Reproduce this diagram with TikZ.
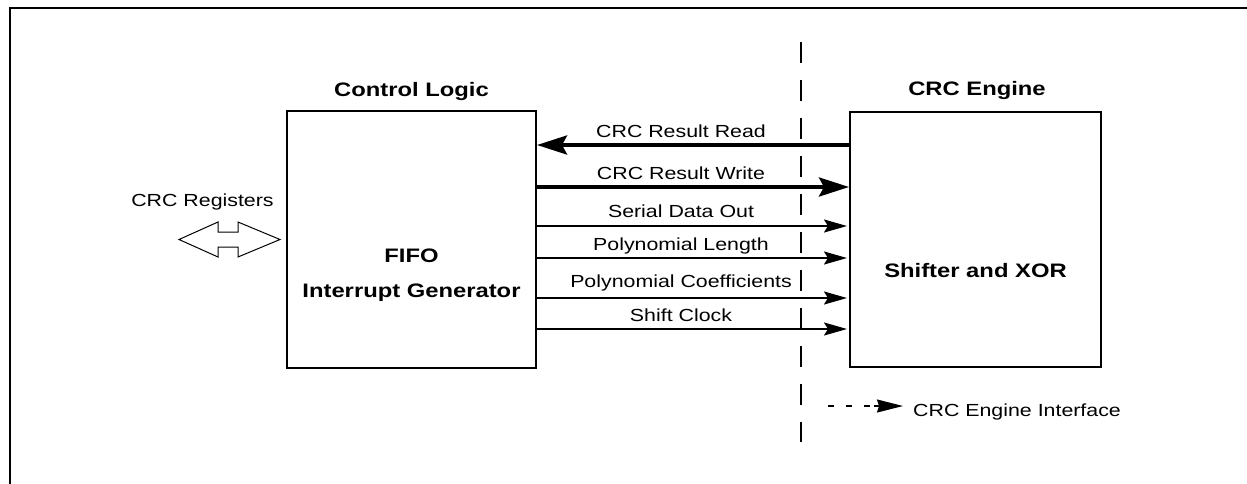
\documentclass[tikz,border=0pt]{standalone}
\usepackage{fontspec}
\setmainfont{Liberation Sans}[FakeStretch=1.22]
\usetikzlibrary{arrows.meta}
\begin{document}
\begin{tikzpicture}[x=1pt,y=-1pt,
  box/.style={draw, line width=2pt, inner sep=0pt},
  ttl/.style={font=\fontsize{19.5}{22}\selectfont\bfseries, anchor=base, inner sep=0pt},
  lbl/.style={font=\fontsize{17.5}{20}\selectfont, anchor=base, inner sep=0pt},
  bigarr/.style={line width=4pt, -{Stealth[length=30pt,width=19pt,inset=5pt]}},
  sigarr/.style={line width=2pt, -{Stealth[length=23pt,width=13pt,inset=4pt]}},
  ifline/.style={line width=2pt, dash pattern=on 21pt off 17pt},
  legline/.style={line width=1.4pt, dash pattern=on 6pt off 12pt},
  frame/.style={line width=2.2pt},
  dblarrow/.style={draw, line width=1pt, line join=miter},
]
\useasboundingbox (0,0) rectangle (1247,483);
\clip (0,0) rectangle (1247,483);
% outer frame (continues beyond the visible area)
\draw[frame] (10,8) rectangle (1300,540);

% blocks
\node[box, minimum width=249pt, minimum height=257pt] (cl) at (411.5,239.5) {};
\node[box, minimum width=251pt, minimum height=255pt] (ce) at (975.5,239.5) {};

% titles and inner texts
\node[ttl] (clt) at (411.5,96) {Control Logic};
\node[ttl] (cet) at (977,95) {CRC Engine};
\node[ttl] (fifo) at (411.5,262) {FIFO};
\node[ttl] (irq) at (411.5,297) {Interrupt Generator};
\node[ttl] (sx) at (975.5,277) {Shifter and XOR};

% interface line
\coordinate (dtop) at (801,42);
\coordinate (dbot) at (801,442);
\draw[ifline] (dtop) -- (dbot);

% signal rows
\coordinate (yR) at (0,145);
\coordinate (yW) at (0,187);
\coordinate (yS) at (0,226);
\coordinate (yL) at (0,258);
\coordinate (yC) at (0,298);
\coordinate (yK) at (0,329);

\draw[bigarr] (ce.west |- yR) -- (cl.east |- yR);
\draw[bigarr] (cl.east |- yW) -- (ce.west |- yW);
\draw[sigarr] (cl.east |- yS) -- ([xshift=-2pt]ce.west |- yS);
\draw[sigarr] (cl.east |- yL) -- ([xshift=-2pt]ce.west |- yL);
\draw[sigarr] (cl.east |- yC) -- ([xshift=-2pt]ce.west |- yC);
\draw[sigarr] (cl.east |- yK) -- ([xshift=-2pt]ce.west |- yK);

\node[lbl] (lR) at (681,137) {CRC Result Read};
\node[lbl] (lW) at (681,179) {CRC Result Write};
\node[lbl] (lS) at (681,217) {Serial Data Out};
\node[lbl] (lL) at (681,250) {Polynomial Length};
\node[lbl] (lC) at (681,287) {Polynomial Coefficients};
\node[lbl] (lK) at (681,321) {Shift Clock};

% CRC registers
\node[lbl] (reg) at (202.5,206) {CRC Registers};
\draw[dblarrow] (179,239.5) -- (218,222) -- (218,232) -- (238,232) -- (238,222)
  -- (280,239.5) -- (238,257) -- (238,247) -- (218,247) -- (218,257) -- cycle;

% legend
\coordinate (lg0) at (828,406);
\coordinate (lg1) at (878,406);
\coordinate (lg2) at (903,406);
\draw[legline] (lg0) -- (lg1);
\draw[line width=1.4pt, -{Stealth[length=26pt,width=13pt,inset=2pt]}] ([xshift=-4pt]lg1) -- (lg2);
\node[lbl, anchor=base west] (lgt) at (913,416) {CRC Engine Interface};
\end{tikzpicture}
\end{document}
